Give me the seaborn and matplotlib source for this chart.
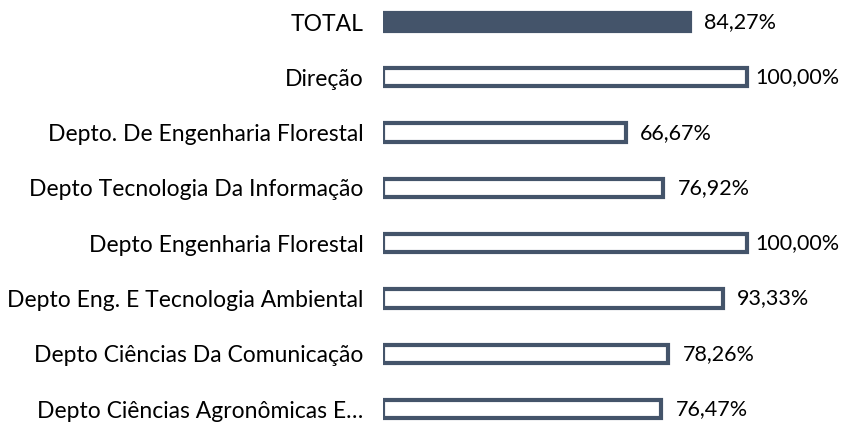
import pandas as pd
import numpy as np
import seaborn as sns
import matplotlib.pyplot as plt

categories = ["TOTAL", "Direção", "Depto. De Engenharia Florestal",
              "Depto Tecnologia Da Informação", "Depto Engenharia Florestal",
              "Depto Eng. E Tecnologia Ambiental", "Depto Ciências Da Comunicação",
              "Depto Ciências Agronômicas E…"]
values = [84.27, 100.00, 66.67, 76.92, 100.00, 93.33, 78.26, 76.47]
value_labels = ["84,27%", "100,00%", "66,67%", "76,92%", "100,00%", "93,33%", "78,26%", "76,47%"]

dark = "#44546A"

sns.set_style("white")
plt.rcParams['font.family'] = ['Lato', 'DejaVu Sans']

df = pd.DataFrame({"cat": categories, "val": values})

fig = plt.figure(figsize=(8.45, 4.28), dpi=100)
ax = fig.add_axes([383 / 845, 0, 462 / 845, 1])
sns.barplot(data=df, x="val", y="cat", ax=ax, width=0.33, color="white",
            edgecolor=dark, linewidth=3.0)

# TOTAL bar is filled
ax.patches[0].set_facecolor(dark)

# value labels; labels at the axis end sit a little closer (as in the source)
for bar, v, lab in zip(ax.patches, values, value_labels):
    y = bar.get_y() + bar.get_height() / 2
    off = 6 if v >= 100 else 10.5
    ax.annotate(lab, (v, y), xytext=(off, 0), textcoords="offset points",
                ha="left", va="center", fontsize=15.5, color="#000000")

ax.set_xlim(0, 126.9)
ax.set_ylim(7.342, -0.398)
ax.set_xlabel("")
ax.set_ylabel("")
ax.set_xticks([])
ax.tick_params(axis="y", length=0, pad=14, labelsize=16.5, labelcolor="#000000")
sns.despine(ax=ax, left=True, bottom=True)

plt.savefig("out.png", dpi=100)
